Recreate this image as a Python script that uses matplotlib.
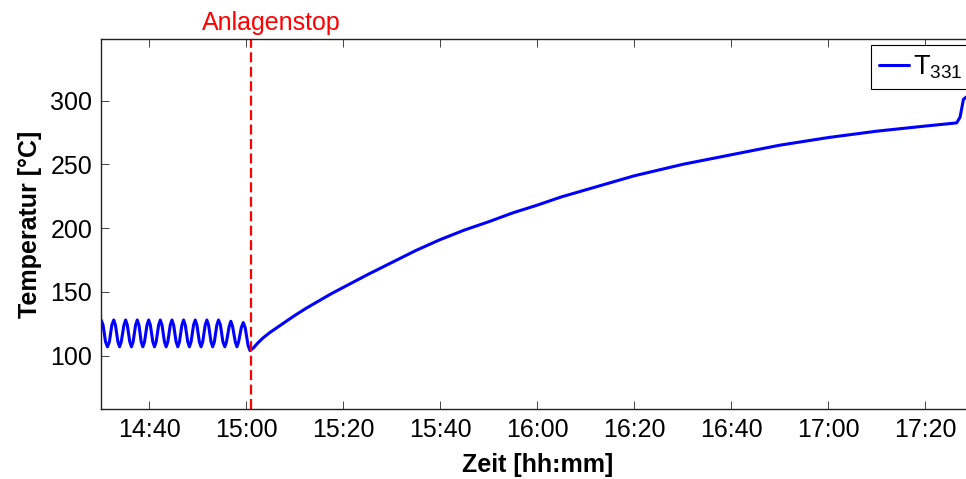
import matplotlib
matplotlib.use("Agg")
import matplotlib.pyplot as plt

# time axis in minutes after 14:30
x_start = "14:30"
x_end = "17:30"
stop_time = "15:01"
tick_labels = ["14:40", "15:00", "15:20", "15:40", "16:00", "16:20", "16:40", "17:00", "17:20"]
y_ticks = [100, 150, 200, 250, 300]

# oscillation before the shutdown
osc_minutes = [0.1, 0.5, 1.0, 1.4, 1.8, 2.3, 2.7, 3.05, 3.55, 3.9, 4.25, 4.8, 5.15, 5.5, 6.0,
               6.35, 6.7, 7.2, 7.55, 7.9, 8.35, 8.7, 9.05, 9.55, 9.9, 10.25, 10.75, 11.1,
               11.45, 11.95, 12.3, 12.65, 13.15, 13.5, 13.85, 14.35, 14.7, 15.05, 15.55,
               15.9, 16.25, 16.75, 17.1, 17.45, 17.95, 18.3, 18.65, 19.15, 19.5, 19.85,
               20.35, 20.7, 21.05, 21.55, 21.9, 22.25, 22.75, 23.1, 23.45, 23.95, 24.3,
               24.7, 25.2, 25.6, 25.95, 26.5, 26.85, 27.2, 27.75, 28.1, 28.45, 29.0, 29.4,
               29.8, 30.4]
osc_temp = [128, 124, 111, 107, 111, 124, 128, 124, 111, 107, 111, 124, 128, 124, 111,
            107, 111, 124, 128, 124, 111, 107, 111, 124, 128, 124, 111, 107,
            111, 124, 128, 124, 111, 107, 111, 124, 128, 124, 111,
            107, 111, 124, 128, 124, 111, 107, 111, 124, 128, 124,
            111, 107, 111, 124, 128, 124, 111, 107, 111, 124, 128,
            124, 111, 107, 111, 123, 127, 123, 111, 107, 111, 122, 126,
            122, 108]

# recovery after the shutdown
rise_minutes = [30.8, 31.6, 32.4, 33.5, 35, 37.5, 40, 42.5, 45, 47.5, 50, 55, 60, 65, 70,
                75, 80, 85, 90, 95, 100, 110, 120, 130, 140, 150, 160, 170, 176.5,
                177.2, 177.9, 178.6]
rise_temp = [104, 106.5, 110, 114, 118.5, 125, 131.5, 137.5, 143, 148.5, 153.5, 163.5,
             173, 182.5, 191, 198.5, 205, 212, 218, 224.5, 230, 241, 250, 257.5, 265,
             271, 276, 280, 282.5, 287, 301, 303]


def to_minutes(hhmm):
    h, m = map(int, hhmm.split(":"))
    h0, m0 = map(int, x_start.split(":"))
    return (h * 60 + m) - (h0 * 60 + m0)


plt.rcParams["font.family"] = ["Liberation Sans", "DejaVu Sans"]
plt.rcParams["mathtext.default"] = "regular"

fig = plt.figure(figsize=(9.66, 4.79), dpi=100)
ax = fig.add_axes([0.1042, 0.1455, 0.9037, 0.7724])

minutes = osc_minutes + rise_minutes
temps = osc_temp + rise_temp
ax.plot(minutes, temps, color="#0000ff", lw=2.2, label=r"$T_{331}$",
        solid_joinstyle="round", solid_capstyle="round")
ax.axvline(to_minutes(stop_time), color="red", lw=1.6, ls=(0, (4.5, 2)))

ax.set_xlim(to_minutes(x_start), to_minutes(x_end))
ax.set_ylim(58, 348)
ax.set_xticks([to_minutes(t) for t in tick_labels])
ax.set_xticklabels(tick_labels)
ax.set_yticks(y_ticks)

ax.tick_params(direction="in", length=6, width=0.7, color="#444444", labelsize=18,
               top=True, right=True, pad=6)
for s in ax.spines.values():
    s.set_linewidth(1.0)
    s.set_color("#222222")

ax.set_xlabel("Zeit [hh:mm]", fontsize=18, fontweight="bold", labelpad=8)
ax.set_ylabel("Temperatur [°C]", fontsize=18, fontweight="bold", labelpad=6)

fig.text(271 / 966, 1 - 30 / 479, "Anlagenstop", color="red", fontsize=18,
         ha="center", va="baseline")

leg = ax.legend(loc="upper left", bbox_to_anchor=(870.7 / 966, 1 - 45 / 479),
                bbox_transform=fig.transFigure, borderaxespad=0, fontsize=19.5,
                fancybox=False, framealpha=1, edgecolor="black",
                handlelength=1.1, handletextpad=0.15, borderpad=0.3)
leg.get_frame().set_linewidth(0.8)

fig.savefig("out.png", dpi=100)
